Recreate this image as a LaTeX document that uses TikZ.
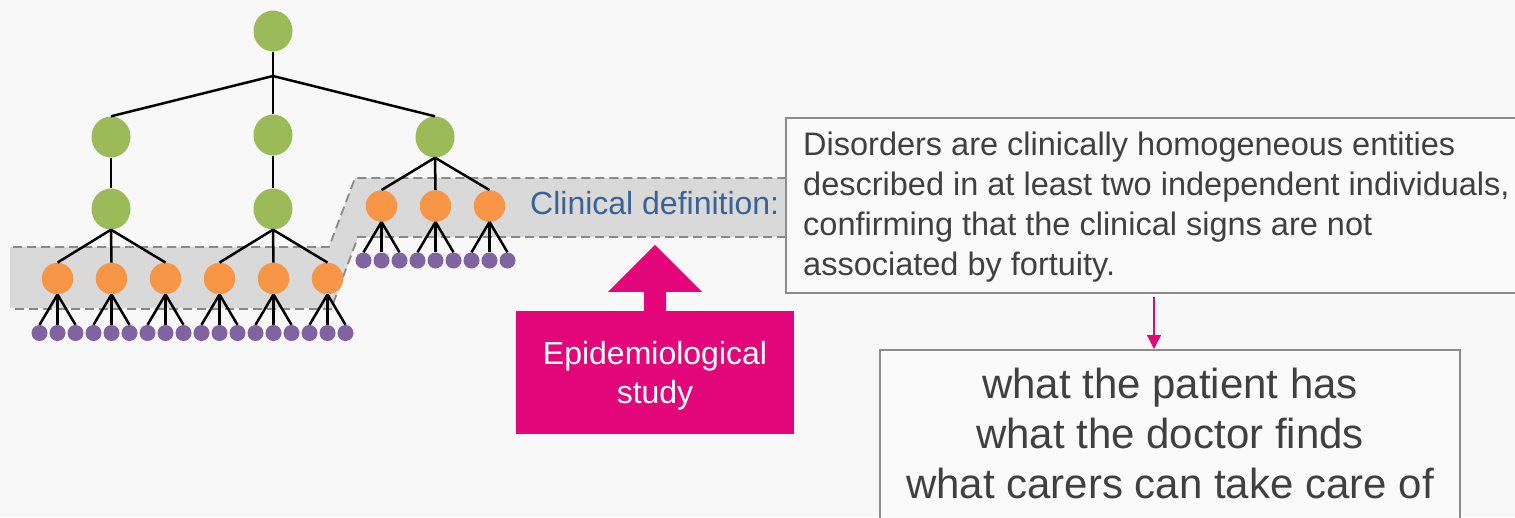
\documentclass[tikz,border=0pt]{standalone}
\usepackage{fontspec}
\setmainfont{Liberation Sans}
\usetikzlibrary{shapes.geometric,arrows.meta,calc}
\definecolor{bg}{HTML}{F8F8F8}
\definecolor{boxfill}{HTML}{FAFAFA}
\definecolor{leafgreen}{HTML}{9BBB59}
\definecolor{tangerine}{HTML}{F79646}
\definecolor{grape}{HTML}{8064A2}
\definecolor{bandgray}{HTML}{D9D9D9}
\definecolor{dashgray}{HTML}{898989}
\definecolor{defblue}{HTML}{3A6293}
\definecolor{epipink}{HTML}{E2067A}
\definecolor{textgray}{HTML}{404040}
\definecolor{boxgray}{HTML}{8C8C8C}
\begin{document}
\begin{tikzpicture}[x=1pt,y=-1pt,
  gnode/.style={ellipse, fill=leafgreen, minimum width=39pt, minimum height=41pt, inner sep=0pt},
  onode/.style={circle, fill=tangerine, minimum size=31.5pt, inner sep=0pt},
  pnode/.style={circle, fill=grape, minimum size=16pt, inner sep=0pt},
  edge/.style={line width=2.5pt, black},
  bandline/.style={dashgray, line width=1.8pt, dash pattern=on 9pt off 5pt},
  textbox/.style={draw=boxgray, line width=1.5pt, fill=boxfill, inner sep=0pt}
]
\useasboundingbox (0,0) rectangle (1515,517);
\fill[bg] (0,0) rectangle (1515,517);

% shaded level band
\fill[bandgray] (10,247) -- (329,247) -- (355,178) -- (785,178) -- (785,237)
  -- (358,237) -- (332,308) -- (10,308) -- cycle;
\draw[bandline] (13,247) -- (329,247) -- (355,178) -- (785,178);
\draw[bandline] (15,309) -- (331,309) -- (358,237) -- (785,237);

% tree nodes
\node[gnode] (root) at (273,31) {};
\coordinate (j) at (273,76);
\node[gnode] (ga) at (111,137) {};
\node[gnode] (gb) at (273,135) {};
\node[gnode] (gc) at (435,137) {};
\node[gnode] (gd) at (111,209) {};
\node[gnode] (ge) at (273,209) {};
\foreach \i in {1,...,6}
  \node[onode] (o\i) at ({57.5+54*(\i-1)},278.5) {};
\foreach \i/\x in {7/381.5,8/435.5,9/489.5}
  \node[onode] (o\i) at (\x,206) {};
\foreach \i in {1,...,9}
  \foreach \k/\dx in {a/-18,b/0,c/18}
    \node[pnode] (p\i\k) at ($(o\i)+(\dx,54.5)$) {};

% tree edges
\draw[edge] (root.south) -- (j);
\foreach \g in {ga,gb,gc} \draw[edge] (j) -- (\g.north);
\draw[edge] (ga.south) -- (gd.north);
\draw[edge] (gb.south) -- (ge.north);
\foreach \i in {1,2,3} \draw[edge] (gd.south) -- (o\i.north);
\foreach \i in {4,5,6} \draw[edge] (ge.south) -- (o\i.north);
\foreach \i in {7,8,9} \draw[edge] (gc.south) -- (o\i.north);
\foreach \i in {1,...,9}
  \foreach \k in {a,b,c}
    \draw[edge] (o\i.south) -- (p\i\k.north);

\node[anchor=base west, defblue, inner sep=0pt, font=\fontsize{32}{38}\selectfont] (cdef) at (530,214) {Clinical definition:};

% definition box, running past the right edge (multi-line text is anchored at its last baseline)
\node[textbox, minimum width=760pt, minimum height=175pt, anchor=north west] (box1) at (785,117) {};
\node[anchor=base west, align=left, textgray, inner sep=0pt, font=\fontsize{32.5}{40}\selectfont] (box1text) at (803,275)
  {Disorders are clinically homogeneous entities\\described in at least two independent individuals,\\confirming that the clinical signs are not\\associated by fortuity.};

% summary box
\node[textbox, minimum width=580pt, minimum height=200pt, anchor=north] (box2) at (1170,349) {};
\node[anchor=base, align=center, textgray, inner sep=0pt, font=\fontsize{42}{50}\selectfont] (box2text) at (1170,498)
  {what the patient has\\what the doctor finds\\what carers can take care of};

\draw[epipink, line width=1.3pt, -{Triangle[width=14pt,length=14pt]}]
  ([xshift=369pt,yshift=-3pt]box1.south west) -- ([xshift=369pt]box1.south west |- box2.north);

% epidemiological study block arrow
\node[fill=epipink, minimum width=278pt, minimum height=123pt, inner sep=0pt] (epi) at (655,372.5) {};
\fill[epipink] ($(epi.north)+(-11,1)$) -- ($(epi.north)+(-11,-19)$) -- ($(epi.north)+(-47,-19)$)
  -- ($(epi.north)+(0,-66)$) -- ($(epi.north)+(47,-19)$) -- ($(epi.north)+(11,-19)$)
  -- ($(epi.north)+(11,1)$) -- cycle;
\node[anchor=base, align=center, white, inner sep=0pt, font=\fontsize{32}{39}\selectfont] (epitext) at (655,403)
  {Epidemiological\\study};
\end{tikzpicture}
\end{document}
